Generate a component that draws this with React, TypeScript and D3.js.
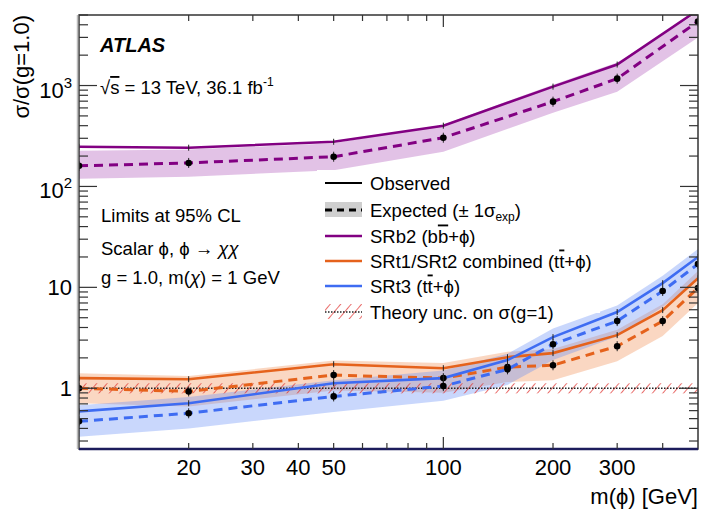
import React from "react";
import * as d3 from "d3";

// ---- data ----
const massB = [10, 20, 50, 100, 200, 300, 500];
const obsB = [247, 242, 277, 400, 975, 1614, 5600];
const expB = [160, 171, 197, 304, 692, 1170, 4310];
const upB = [226, 232, 268, 409, 1020, 1690, 5290];
const dnB = [119, 125, 145, 221, 538, 869, 2990];

const massT = [10, 20, 50, 100, 150, 200, 300, 400, 500];
const obsO = [1.26, 1.23, 1.73, 1.58, 2.03, 2.23, 3.36, 5.95, 12.3];
const expO = [1.0, 0.93, 1.35, 1.26, 1.62, 1.69, 2.61, 4.63, 9.85];
const upO = [1.41, 1.32, 1.88, 1.78, 2.3, 2.45, 3.8, 6.8, 14.5];
const dnO = [0.71, 0.66, 0.95, 0.9, 1.15, 1.2, 1.85, 3.3, 7.0];

const obsBl = [0.59, 0.71, 1.12, 1.26, 1.9, 3.21, 5.69, 11.0, 20.0];
const expBl = [0.47, 0.565, 0.83, 1.05, 1.54, 2.73, 4.63, 9.2, 17.0];
const upBl = [0.68, 0.82, 1.2, 1.5, 2.2, 3.9, 6.6, 13, 24];
const dnBl = [0.33, 0.4, 0.58, 0.75, 1.08, 1.9, 3.25, 6.4, 12];

const theoryLo = 0.89;
const theoryHi = 1.12;

const xLabels = [20, 30, 40, 50, 100, 200, 300];
const yDecades = [1, 10, 100, 1000];

const FONT = "'Liberation Sans', Arial, Helvetica, sans-serif";

export default function App() {
  const L = 79, R = 698, T = 15, B = 449;
  const x = d3.scaleLog().domain([10, 500]).range([L, R]);
  const y = d3.scaleLog().domain([0.25, 5000]).range([B, T]);

  const line = (xs: number[], ys: number[]) =>
    d3.line<number>().x((_, i) => x(xs[i])).y((v) => y(v))(ys) || "";
  const area = (xs: number[], lo: number[], hi: number[]) =>
    d3
      .area<number>()
      .x((_, i) => x(xs[i]))
      .y0((_, i) => y(lo[i]))
      .y1((_, i) => y(hi[i]))(xs) || "";

  const series = [
    { m: massB, obs: obsB, exp: expB, up: upB, dn: dnB, col: "#820082", band: "rgba(190,120,200,0.45)" },
    { m: massT, obs: obsO, exp: expO, up: upO, dn: dnO, col: "#e5621c", band: "rgba(240,140,80,0.35)" },
    { m: massT, obs: obsBl, exp: expBl, up: upBl, dn: dnBl, col: "#3e6cf2", band: "rgba(100,140,245,0.35)" },
  ];

  // ticks
  const yTicks: { v: number; major: boolean }[] = [];
  for (let d = -1; d <= 3; d++) {
    for (let k = 1; k <= 9; k++) {
      const v = k * Math.pow(10, d);
      if (v >= 0.25 && v <= 5000) yTicks.push({ v, major: k === 1 });
    }
  }
  const xTicks: { v: number; major: boolean }[] = [];
  for (let d = 1; d <= 2; d++) {
    for (let k = 1; k <= 9; k++) {
      const v = k * Math.pow(10, d);
      if (v > 10 && v < 500) xTicks.push({ v, major: k === 1 });
    }
  }

  const legY = [183, 210, 236, 261, 286, 312];
  const lx0 = 325, lx1 = 362, tx = 370;
  const chi = <tspan fontStyle="italic">χ</tspan>;

  return (
    <svg
      width={720}
      height={517}
      style={{ position: "absolute", left: 0, top: 0, background: "#fff" }}
      fontFamily={FONT}
    >
      <defs>
        <clipPath id="plot">
          <rect x={L} y={T} width={R - L} height={B - T} />
        </clipPath>
        <pattern id="hatch" width="8" height="8" patternUnits="userSpaceOnUse" patternTransform="rotate(40)">
          <line x1="0" y1="0" x2="0" y2="8" stroke="#e0302e" strokeWidth="1.4" />
        </pattern>
      </defs>

      <g clipPath="url(#plot)">
        {series.map((s, i) => (
          <path key={"b" + i} d={area(s.m, s.dn, s.up)} fill={s.band} stroke="none" />
        ))}
        {/* theory band */}
        <rect
          x={L}
          y={y(theoryHi)}
          width={R - L}
          height={y(theoryLo) - y(theoryHi)}
          fill="url(#hatch)"
        />
        <line x1={L} x2={R} y1={y(1)} y2={y(1)} stroke="#222" strokeWidth={1.5} strokeDasharray="1.5 1.5" />
        {series.map((s, i) => (
          <g key={"l" + i}>
            <path d={line(s.m, s.obs)} fill="none" stroke={s.col} strokeWidth={2.6} />
            <path d={line(s.m, s.exp)} fill="none" stroke={s.col} strokeWidth={3} strokeDasharray="9 6" />
          </g>
        ))}
        {series.map((s, i) =>
          s.m.map((m, j) => (
            <g key={"p" + i + "-" + j}>
              <line x1={x(m)} x2={x(m)} y1={y(s.obs[j]) - 3} y2={y(s.obs[j]) + 3} stroke="#222" strokeWidth={1} />
              <line x1={x(m)} x2={x(m)} y1={y(s.exp[j]) - 5} y2={y(s.exp[j]) + 5} stroke="#222" strokeWidth={1} />
              <circle cx={x(m)} cy={y(s.exp[j])} r={3.3} fill="#000" />
            </g>
          ))
        )}
      </g>

      {/* legend */}
      <rect x={317} y={170} width={283} height={143} fill="#fff" />
      <line x1={lx0} x2={lx1} y1={legY[0]} y2={legY[0]} stroke="#000" strokeWidth={2.2} />
      <rect x={lx0} y={legY[1] - 8} width={lx1 - lx0} height={15} fill="#cfcfcf" />
      <line x1={lx0} x2={lx1} y1={legY[1]} y2={legY[1]} stroke="#000" strokeWidth={3} strokeDasharray="7 5" />
      <line x1={lx0} x2={lx1} y1={legY[2]} y2={legY[2]} stroke={series[0].col} strokeWidth={2.6} />
      <line x1={lx0} x2={lx1} y1={legY[3]} y2={legY[3]} stroke={series[1].col} strokeWidth={2.6} />
      <line x1={lx0} x2={lx1} y1={legY[4]} y2={legY[4]} stroke={series[2].col} strokeWidth={2.6} />
      <rect x={lx0} y={legY[5] - 8} width={lx1 - lx0} height={15} fill="url(#hatch)" />
      <line x1={lx0} x2={lx1} y1={legY[5]} y2={legY[5]} stroke="#222" strokeWidth={1.5} strokeDasharray="1.5 1.5" />
      <g fontSize={18.5} fill="#000">
        <text x={tx} y={legY[0] + 6.5}>Observed</text>
        <text x={tx} y={legY[1] + 6.5}>
          Expected (± 1σ<tspan fontSize={12} dy={4}>exp</tspan>
          <tspan dy={-4}>)</tspan>
        </text>
        <text x={tx} y={legY[2] + 6.5}>
          SRb2 (b<tspan style={{ textDecoration: "overline" }}>b</tspan>+ϕ)
        </text>
        <text x={tx} y={legY[3] + 6.5}>
          SRt1/SRt2 combined (t<tspan style={{ textDecoration: "overline" }}>t</tspan>+ϕ)
        </text>
        <text x={tx} y={legY[4] + 6.5}>
          SRt3 (t<tspan style={{ textDecoration: "overline" }}>t</tspan>+ϕ)
        </text>
        <text x={tx} y={legY[5] + 6.5}>Theory unc. on σ(g=1)</text>
      </g>

      {/* annotations */}
      <text x={100} y={52} fontSize={20} fontWeight="bold" fontStyle="italic">ATLAS</text>
      <text x={100} y={94} fontSize={18.5}>
        √<tspan style={{ textDecoration: "overline" }}>s</tspan> = 13 TeV, 36.1 fb
        <tspan fontSize={12} dy={-8}>-1</tspan>
      </text>
      <g fontSize={18.5}>
        <text x={101} y={221.5}>Limits at 95% CL</text>
        <text x={101} y={254.5}>Scalar ϕ, ϕ → {chi}{chi}</text>
        <text x={101} y={283.5}>g = 1.0,  m({chi}) = 1 GeV</text>
      </g>

      {/* frame */}
      <rect x={L} y={T} width={R - L} height={B - T} fill="none" stroke="#333" strokeWidth={1.5} />
      <line x1={L} x2={R} y1={B} y2={B} stroke="#1c1c5c" strokeWidth={2.5} />
      <line x1={L - 1.5} x2={L - 1.5} y1={T} y2={B} stroke="#bbb" strokeWidth={1.5} />

      {/* y ticks */}
      {yTicks.map((t, i) => {
        const len = t.major ? 18 : 9;
        const yy = y(t.v);
        return (
          <g key={"yt" + i} stroke="#333" strokeWidth={1.2}>
            <line x1={L} x2={L + len} y1={yy} y2={yy} />
            <line x1={R} x2={R - len} y1={yy} y2={yy} />
          </g>
        );
      })}
      {/* x ticks */}
      {xTicks.map((t, i) => {
        const len = t.major ? 12 : 6;
        const xx = x(t.v);
        return (
          <g key={"xt" + i} stroke="#333" strokeWidth={1.2}>
            <line x1={xx} x2={xx} y1={B} y2={B - len} />
            <line x1={xx} x2={xx} y1={T} y2={T + len} />
          </g>
        );
      })}

      {/* tick labels */}
      <g fontSize={22} fill="#000">
        {xLabels.map((v) => (
          <text key={"xl" + v} x={x(v)} y={475} textAnchor="middle">
            {v}
          </text>
        ))}
        {yDecades.map((v) => {
          const yy = y(v);
          if (v === 1)
            return (
              <text key="yl1" x={72} y={yy + 8} textAnchor="end">1</text>
            );
          if (v === 10)
            return (
              <text key="yl10" x={72} y={yy + 8} textAnchor="end">10</text>
            );
          const e = Math.round(Math.log10(v));
          return (
            <text key={"yl" + v} x={72} y={yy + 12} textAnchor="end">
              10<tspan fontSize={15} dy={-10}>{e}</tspan>
            </text>
          );
        })}
      </g>

      {/* axis titles */}
      <text x={698} y={504} fontSize={22} textAnchor="end">m(ϕ) [GeV]</text>
      <text transform="translate(29,15) rotate(-90)" fontSize={22} textAnchor="end">σ/σ(g=1.0)</text>
    </svg>
  );
}
